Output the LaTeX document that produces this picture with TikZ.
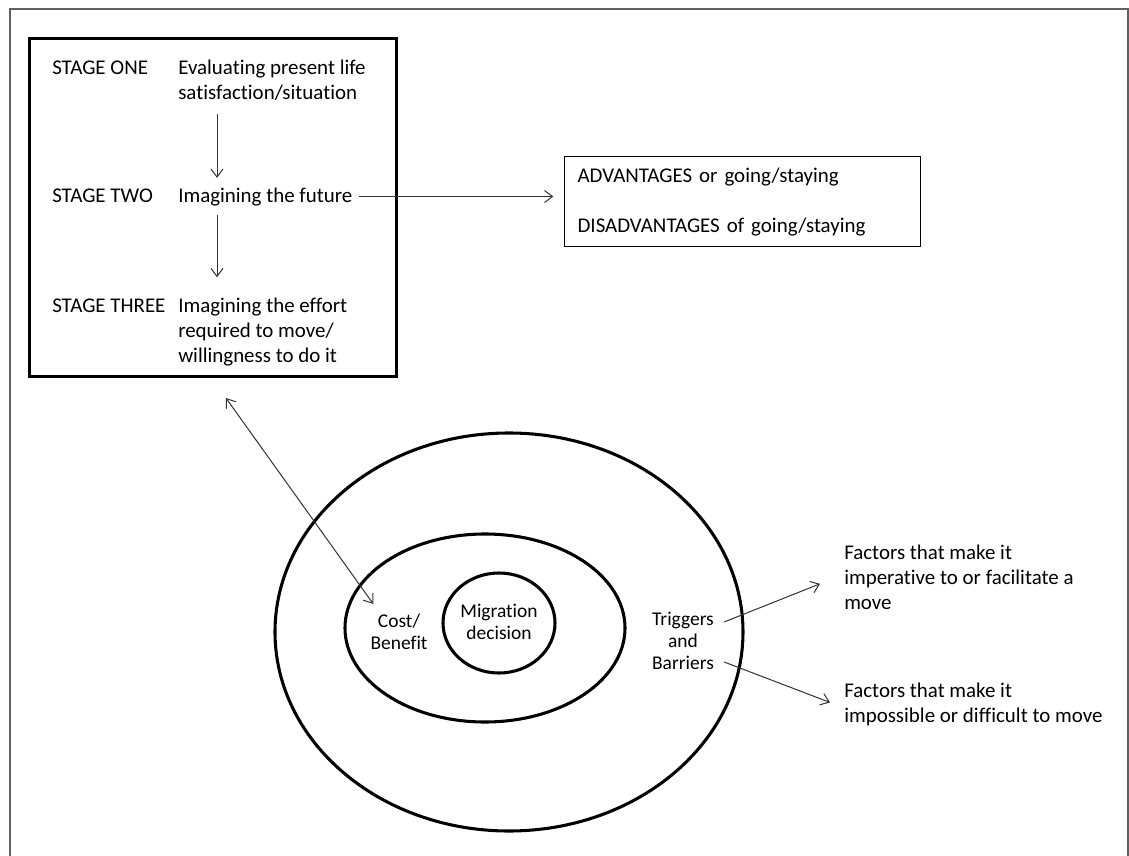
\documentclass[tikz,border=0pt]{standalone}
\usepackage{fontspec}
\setmainfont{Carlito}[Ligatures=NoCommon]
\usetikzlibrary{arrows.meta,shapes.geometric,calc}
\begin{document}
\begin{tikzpicture}[x=0.75pt,y=-0.75pt,
  txt/.style={inner sep=0pt, align=left, font=\fontsize{15.7}{18.75}\selectfont},
  ctxt/.style={inner sep=0pt, align=center, font=\fontsize{14.6}{16.5}\selectfont},
  tip/.tip={Straight Barb[length=6pt,width=9pt,line width=0.75pt]},
  arr/.style={draw=black!80, line width=0.75pt, -tip},
  dbl/.style={draw=black!80, line width=0.75pt, tip-tip},
  ring/.style={draw, ellipse, line width=2.3pt, inner sep=0pt},
]
\useasboundingbox (0,0) rectangle (1129,856);
\draw[black!62, line width=1.5pt] (10,880) -- (10,9) -- (1128,9) -- (1128,880);

% stage box
\node[draw, line width=2.3pt, inner sep=0pt, minimum width=275.5pt, minimum height=253.5pt, anchor=north west] (stage) at (28,37) {};
\node[txt, anchor=base west] (s1) at (52,75) {STAGE ONE};
\node[txt, anchor=base west] (d1) at (178,100) {Evaluating present life\\satisfaction/situation};
\node[txt, anchor=base west] (s2) at (52,202) {STAGE TWO};
\node[txt, anchor=base west] (d2) at (178,202) {Imagining the future};
\node[txt, anchor=base west] (s3) at (52,312) {STAGE THREE};
\node[txt, anchor=base west] (d3) at (178,362) {Imagining the effort\\required to move/\\willingness to do it};

\coordinate (ax) at (217,0);
\draw[arr, shorten <=9.75pt, shorten >=7pt] (d1.south -| ax) -- (d2.north -| ax);
\draw[arr, shorten <=6.75pt, shorten >=15pt] (d2.south -| ax) -- (d3.north -| ax);

% advantages box
\node[txt, draw=black, line width=0.9pt, anchor=north west, text width=247.5pt, inner xsep=9.75pt, inner ysep=0pt, minimum height=67.5pt] (adv) at (564,156) {ADVANTAGES or going/staying\\[18.75pt]DISADVANTAGES of going/staying};
\draw[arr, shorten <=4.5pt, shorten >=8pt] (d2.east) -- (d2.east -| adv.west);

% rings
\node[ring, minimum width=351pt, minimum height=298.5pt] (outer) at (509,632) {};
\node[ring, minimum width=210pt, minimum height=141pt] (middle) at (485,628) {};
\node[ring, minimum width=84pt, minimum height=75pt] (inner) at (499,623) {};
\node[ctxt] (md) at (499,622) {Migration\\decision};
\node[ctxt] (cb) at (399,632) {Cost/\\Benefit};
\node[ctxt] (tb) at (683,641) {Triggers\\and\\Barriers};

\node[txt, anchor=base west] (f1) at (844,609) {Factors that make it\\imperative to or facilitate a\\move};
\node[txt, anchor=base west] (f2) at (844,722) {Factors that make it\\impossible or difficult to move};

\draw[arr] ($(tb.east)+(10,-19)$) -- ($(f1.west)+(-24,7)$);
\draw[arr] ($(tb.east)+(10,21)$) -- ($(f2.west)+(-14,-1.5)$);
\draw[dbl] ($(stage.south west)+(198,20)$) -- ($(cb.north west)+(3,-10)$);
\end{tikzpicture}
\end{document}
